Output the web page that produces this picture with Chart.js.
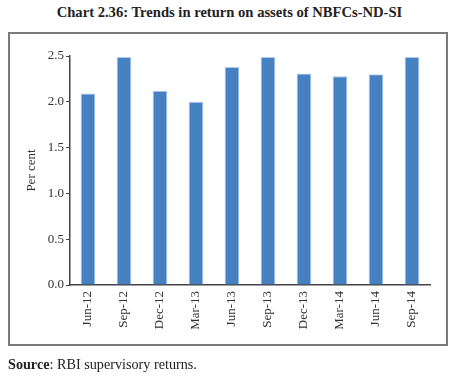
<!DOCTYPE html>
<html>
<head>
<meta charset="utf-8">
<script src="https://cdn.jsdelivr.net/npm/chart.js@4"></script>
<style>
  html, body { margin: 0; padding: 0; background: #fff; }
  body { width: 459px; height: 381px; position: relative; overflow: hidden; font-family: "Liberation Serif", "DejaVu Serif", serif; }
  #title { position: absolute; left: 0; top: 4px; width: 459px; text-align: center; font-weight: bold; font-size: 14.6px; color: #222; }
  #frame { position: absolute; left: 8px; top: 32px; width: 436px; height: 310px; border: 2px solid #7a7a7a; }
  #wrap { position: absolute; left: 0; top: 0; width: 459px; height: 381px; }
  #source { position: absolute; left: 8px; top: 356px; font-size: 14.2px; color: #222; }
</style>
</head>
<body>
<div id="title">Chart 2.36: Trends in return on assets of NBFCs-ND-SI</div>
<div id="frame"></div>
<div id="wrap"><canvas id="c" width="459" height="381"></canvas></div>
<div id="source"><b>Source</b>: RBI supervisory returns.</div>
<script>
const categories = ["Jun-12","Sep-12","Dec-12","Mar-13","Jun-13","Sep-13","Dec-13","Mar-14","Jun-14","Sep-14"];
const returnOnAssets = [2.09, 2.49, 2.12, 2.00, 2.38, 2.49, 2.31, 2.28, 2.30, 2.49];
const yTicks = [0, 0.5, 1.0, 1.5, 2.0, 2.5];

new Chart(document.getElementById('c'), {
  type: 'bar',
  data: {
    labels: categories,
    datasets: [{
      data: returnOnAssets,
      backgroundColor: '#4580c1',
      borderColor: '#b3cbe9',
      borderWidth: 1,
      barPercentage: 0.41,
      categoryPercentage: 1.0
    }]
  },
  options: {
    responsive: false,
    animation: false,
    devicePixelRatio: 1,
    layout: { padding: { left: 20, right: 29, top: 56, bottom: 36 } },
    plugins: { legend: { display: false }, tooltip: { enabled: false }, title: { display: false } },
    scales: {
      x: {
        grid: { display: false, drawTicks: false },
        border: { display: true, color: '#444', width: 1.5 },
        ticks: { maxRotation: 90, minRotation: 90, padding: 6, color: '#333', font: { family: 'Liberation Serif', size: 13 } },
        afterFit: s => { s.height = 60; }
      },
      y: {
        min: 0, max: 2.5,
        afterBuildTicks: s => { s.ticks = yTicks.map(v => ({ value: v })); },
        grid: { drawOnChartArea: false, drawTicks: true, tickLength: 4, color: '#444' },
        border: { display: true, color: '#444', width: 1.5 },
        ticks: { padding: 2, color: '#333', font: { family: 'Liberation Serif', size: 13 }, callback: v => Number(v).toFixed(1) },
        title: { display: true, text: 'Per cent', color: '#333', font: { family: 'Liberation Serif', size: 13 } },
        afterFit: s => { s.width = 50; }
      }
    }
  }
});
</script>
</body>
</html>
